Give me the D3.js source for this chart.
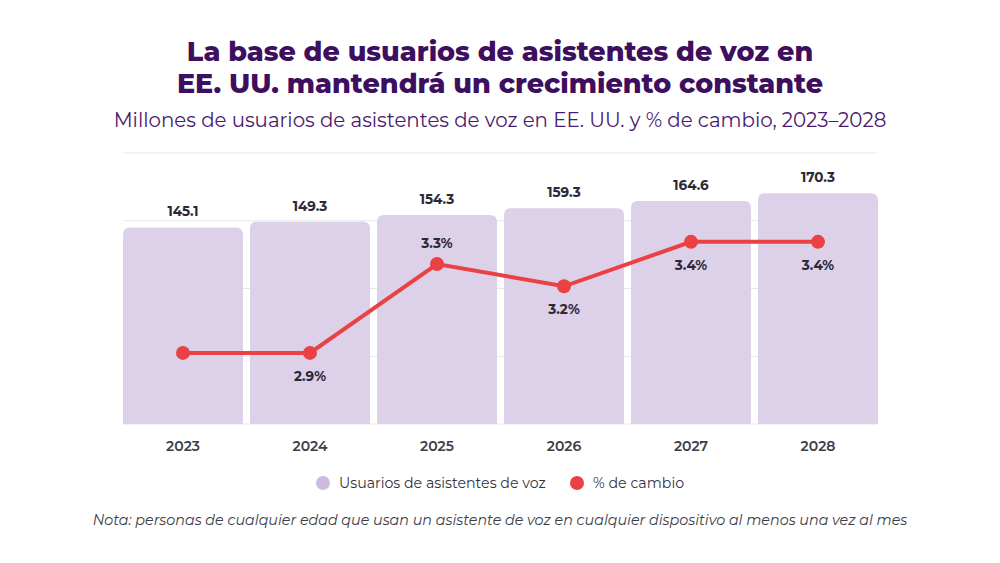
<!DOCTYPE html>
<html>
<head>
<meta charset="utf-8">
<script src="https://cdn.jsdelivr.net/npm/d3@7"></script>
<style>
  body { margin: 0; background: #fff; }
  svg { display: block; }
</style>
</head>
<body>
<div id="chart"></div>
<script>
// data
var years = ["2023", "2024", "2025", "2026", "2027", "2028"];
var users = [145.1, 149.3, 154.3, 159.3, 164.6, 170.3];
var change = [2.9, 2.9, 3.3, 3.2, 3.4, 3.4];
var changeLabels = [null, "2.9%", "3.3%", "3.2%", "3.4%", "3.4%"];
var labelAbove = [false, false, true, false, false, false];
var gridTicks = [0, 50, 100, 150, 200];

var width = 1000, height = 563;
var purple = "#ddd0e9", red = "#ea4145", ink = "#2b2838", titleCol = "#3d0f5e";
var font = "Montserrat, 'DejaVu Sans', sans-serif";

var svg = d3.select("#chart").append("svg")
    .attr("width", width)
    .attr("height", height)
    .style("font-family", font);

// title + subtitle
var titleLines = ["La base de usuarios de asistentes de voz en",
                  "EE. UU. mantendrá un crecimiento constante"];
svg.selectAll("text.title")
  .data(titleLines)
  .enter().append("text")
    .attr("class", "title")
    .attr("x", width / 2)
    .attr("y", function(d, i) { return 61 + i * 32; })
    .attr("text-anchor", "middle")
    .attr("fill", titleCol)
    .style("font-size", "27px")
    .style("font-weight", "800")
    .text(function(d) { return d; });

svg.append("text")
    .attr("x", width / 2)
    .attr("y", 127)
    .attr("text-anchor", "middle")
    .attr("fill", "#4a1a6e")
    .style("font-size", "19.8px")
    .text("Millones de usuarios de asistentes de voz en EE. UU. y % de cambio, 2023–2028");

// scales
var x = d3.scaleBand().domain(years).range([123, 878]).paddingInner(0.055).paddingOuter(0);
var y = d3.scaleLinear().domain([0, 200]).range([424, 153]);
var y2 = d3.scaleLinear().domain([2.58, 3.8]).range([424, 153]);

// gridlines
svg.append("g")
  .selectAll("line")
  .data(gridTicks)
  .enter().append("line")
    .attr("x1", 123).attr("x2", 877)
    .attr("y1", function(d) { return y(d); })
    .attr("y2", function(d) { return y(d); })
    .attr("stroke", "#e6e6e6")
    .attr("stroke-width", 1);

// bars, top corners rounded
function topRounded(x0, y0, w, h, r) {
  return "M" + x0 + "," + (y0 + h) +
    "V" + (y0 + r) +
    "Q" + x0 + "," + y0 + " " + (x0 + r) + "," + y0 +
    "H" + (x0 + w - r) +
    "Q" + (x0 + w) + "," + y0 + " " + (x0 + w) + "," + (y0 + r) +
    "V" + (y0 + h) + "Z";
}

svg.append("g")
  .selectAll("path")
  .data(users)
  .enter().append("path")
    .attr("fill", purple)
    .attr("d", function(d, i) {
      return topRounded(x(years[i]), y(d), x.bandwidth(), y(0) - y(d), 7);
    });

svg.append("g")
  .selectAll("text")
  .data(users)
  .enter().append("text")
    .attr("x", function(d, i) { return x(years[i]) + x.bandwidth() / 2; })
    .attr("y", function(d) { return y(d) - 11; })
    .attr("text-anchor", "middle")
    .attr("fill", ink)
    .style("font-size", "13.5px")
    .style("font-weight", "bold")
    .text(function(d) { return d.toFixed(1); });

// x axis labels
var xAxis = svg.append("g")
    .attr("transform", "translate(0," + 424 + ")")
    .call(d3.axisBottom(x).tickSize(0).tickPadding(17));
xAxis.select(".domain").remove();
xAxis.selectAll("text")
    .attr("fill", "#3e3e48")
    .style("font-family", font)
    .style("font-size", "14px")
    .style("font-weight", "600");

// % change line
var cx = function(i) { return x(years[i]) + x.bandwidth() / 2; };
var line = d3.line()
    .x(function(d, i) { return cx(i); })
    .y(function(d) { return y2(d); });

svg.append("path")
    .datum(change)
    .attr("fill", "none")
    .attr("stroke", red)
    .attr("stroke-width", 4)
    .attr("d", line);

svg.append("g")
  .selectAll("circle")
  .data(change)
  .enter().append("circle")
    .attr("cx", function(d, i) { return cx(i); })
    .attr("cy", function(d) { return y2(d); })
    .attr("r", 7)
    .attr("fill", red);

change.forEach(function(d, i) {
  if (!changeLabels[i]) return;
  svg.append("text")
    .attr("x", cx(i))
    .attr("y", y2(d) + (labelAbove[i] ? -16 : 28))
    .attr("text-anchor", "middle")
    .attr("fill", ink)
    .style("font-size", "13.5px")
    .style("font-weight", "bold")
    .text(changeLabels[i]);
});

// legend
var legend = svg.append("g").attr("transform", "translate(0,483)");
var items = [
  { label: "Usuarios de asistentes de voz", color: "#cfbbe2", x: 323 },
  { label: "% de cambio", color: red, x: 577 }
];
items.forEach(function(it) {
  legend.append("circle").attr("cx", it.x).attr("cy", 0).attr("r", 7).attr("fill", it.color);
  legend.append("text")
    .attr("x", it.x + 16)
    .attr("y", 5)
    .attr("fill", "#333340")
    .style("font-size", "14.2px")
    .text(it.label);
});

// note
svg.append("text")
    .attr("x", width / 2)
    .attr("y", 525)
    .attr("text-anchor", "middle")
    .attr("fill", "#3d3d48")
    .style("font-size", "14.3px")
    .style("font-style", "italic")
    .text("Nota: personas de cualquier edad que usan un asistente de voz en cualquier dispositivo al menos una vez al mes");
</script>
</body>
</html>
